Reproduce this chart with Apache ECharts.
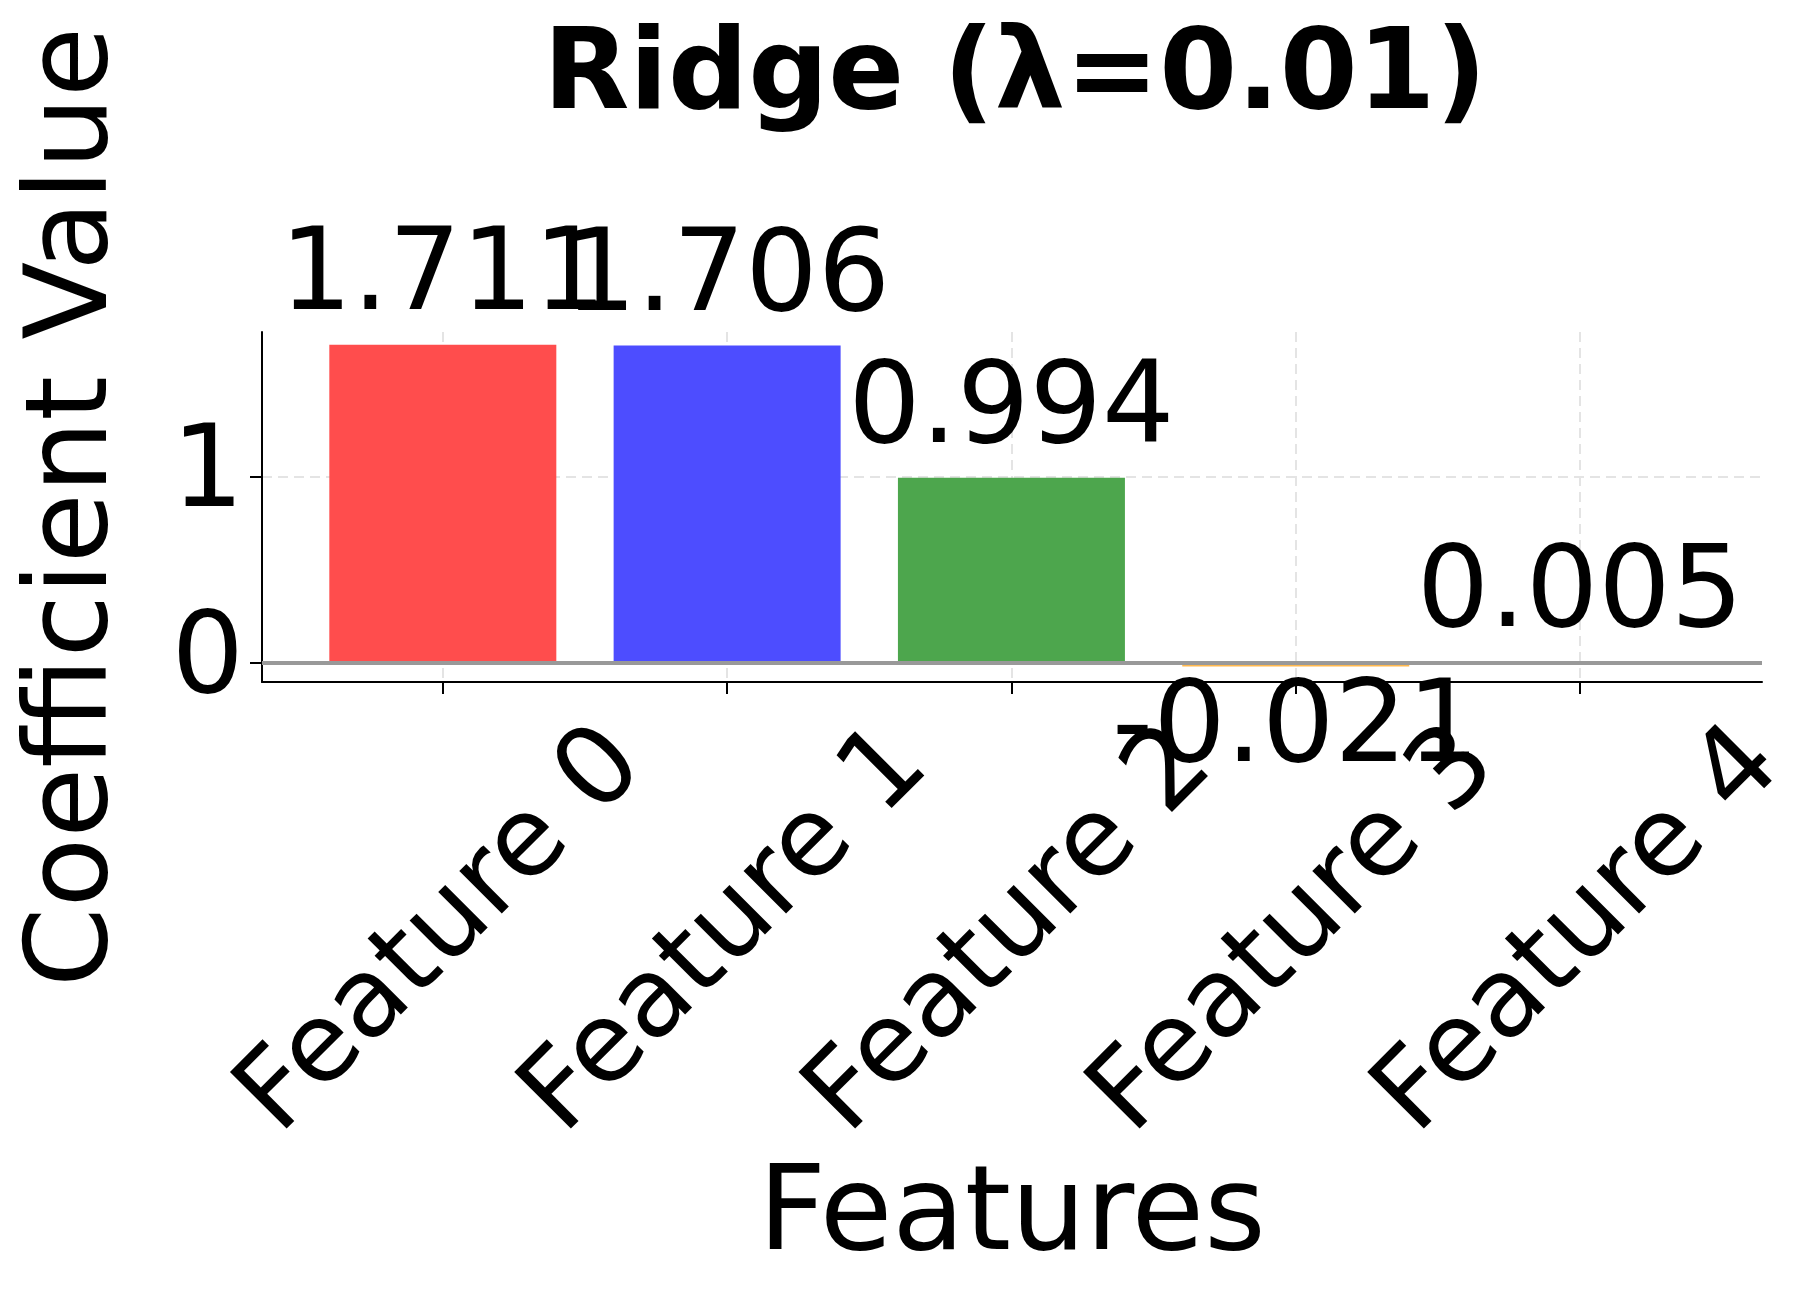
<!DOCTYPE html>
<html>
<head>
<meta charset="utf-8">
<script src="https://cdn.jsdelivr.net/npm/echarts@6/dist/echarts.min.js"></script>
<style>html,body{margin:0;background:#fff}#chart{width:1820px;height:1308px}</style>
</head>
<body>
<div id="chart"></div>
<script>
// data
var categories = ['Feature 0', 'Feature 1', 'Feature 2', 'Feature 3', 'Feature 4'];
var coefValues = [1.711, 1.706, 0.994, -0.021, 0.005];
var barColors = ['#ff4d4d', '#4d4dff', '#4da64d', '#ffb84d', '#a64da6'];
var yTicks = [0, 1];

var font = 'DejaVu Sans';
var chart = echarts.init(document.getElementById('chart'));

var barData = coefValues.map(function (v, i) {
  return {
    value : [i, v],
    itemStyle : { color : barColors[i] },
    label : { position : v < 0 ? 'bottom' : 'top' }
  };
});

chart.setOption({
  animation : false,
  title : {
    text : 'Ridge (λ=0.01)', left : 1010, top : 18, textAlign : 'center',
    textStyle : { fontFamily : font, fontWeight : 'bold', fontSize : 112, color : '#000' }
  },
  grid : { left : 262, right : 58, top : 332, bottom : 626, outerBoundsMode : 'none', containLabel : false },
  xAxis : {
    type : 'value', min : -0.636, max : 4.64,
    name : 'Features', nameLocation : 'middle', nameGap : 536,
    nameTextStyle : { fontFamily : font, fontSize : 118, color : '#000', verticalAlign : 'middle' },
    axisLine : { show : true, onZero : false, lineStyle : { color : '#000', width : 2 } },
    axisTick : { show : true, length : 12, customValues : [0, 1, 2, 3, 4], lineStyle : { color : '#000', width : 2 } },
    axisLabel : {
      customValues : [0, 1, 2, 3, 4], rotate : 45, margin : 250,
      align : 'center', verticalAlign : 'middle',
      fontFamily : font, fontSize : 110, color : '#000',
      formatter : function (v) { return categories[Math.round(v)] || ''; }
    },
    splitLine : { show : true, lineStyle : { color : '#e4e4e4', type : [10, 6], width : 2 } }
  },
  yAxis : {
    type : 'value', min : -0.105, max : 1.779,
    name : 'Coefficient Value', nameLocation : 'middle', nameGap : 186,
    nameTextStyle : { fontFamily : font, fontSize : 114, color : '#000', verticalAlign : 'middle' },
    axisLine : { show : true, onZero : false, lineStyle : { color : '#000', width : 2 } },
    axisTick : { show : true, length : 12, customValues : yTicks, lineStyle : { color : '#000', width : 2 } },
    axisLabel : { customValues : yTicks, margin : 18, fontFamily : font, fontSize : 114, color : '#000' },
    splitLine : { show : true, lineStyle : { color : '#e4e4e4', type : [10, 6], width : 2 } }
  },
  series : [{
    type : 'bar',
    barWidth : 227,
    data : barData,
    label : {
      show : true, distance : 8, fontFamily : font, fontSize : 114, color : '#000',
      formatter : function (p) { return p.value[1].toFixed(3); }
    },
    markLine : {
      symbol : 'none', silent : true, label : { show : false },
      lineStyle : { color : '#999', width : 4, type : 'solid' },
      data : [{ yAxis : 0 }]
    }
  }]
});
</script>
</body>
</html>
